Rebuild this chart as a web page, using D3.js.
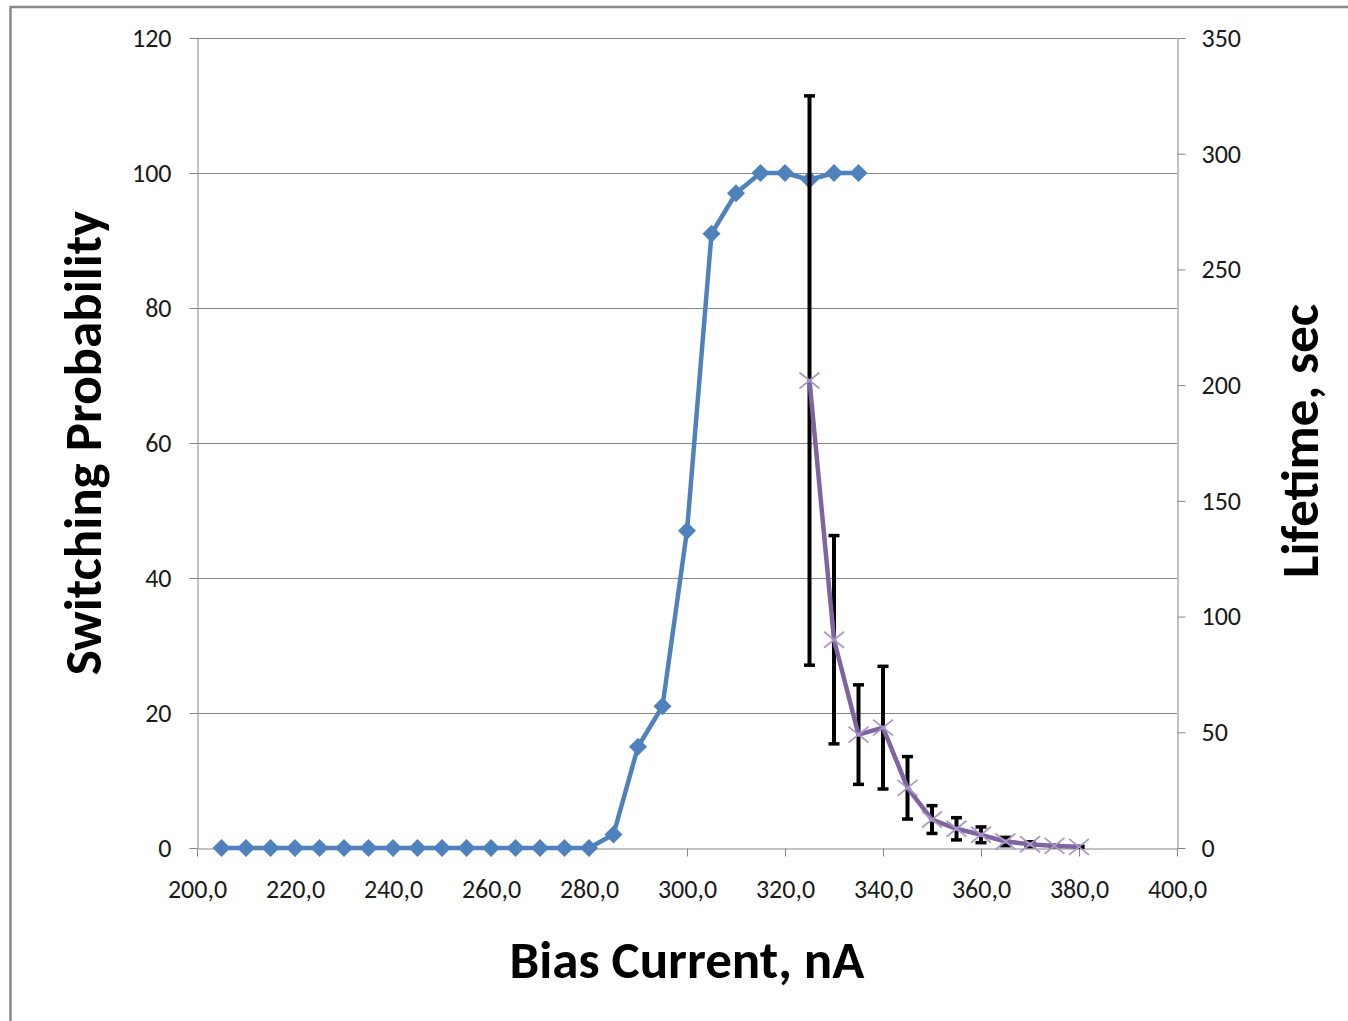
<!DOCTYPE html>
<html>
<head>
<meta charset="utf-8">
<script src="https://cdn.jsdelivr.net/npm/d3@7"></script>
<style>
  html, body { margin: 0; padding: 0; background: #fff; }
  svg { display: block; }
</style>
</head>
<body>
<svg id="chart" width="1348" height="1021"></svg>
<script>
// Switching probability vs bias current (left axis)
const switchCurrent = [205, 210, 215, 220, 225, 230, 235, 240, 245, 250, 255, 260, 265, 270, 275, 280,
                       285, 290, 295, 300, 305, 310, 315, 320, 325, 330, 335];
const switchProb = [0, 0, 0, 0, 0, 0, 0, 0, 0, 0, 0, 0, 0, 0, 0, 0,
                    2, 15, 21, 47, 91, 97, 100, 100, 99, 100, 100];

// Lifetime vs bias current (right axis), with symmetric error bars
const lifeCurrent = [325, 330, 335, 340, 345, 350, 355, 360, 365, 370, 375, 380];
const lifeTime = [202, 90, 49, 52, 26, 12.3, 8.3, 5.7, 2.8, 1.65, 0.9, 0.5];
const lifeErr = [123, 45, 21.5, 26.5, 13.5, 6, 4.8, 3.4, 1.8, 1.05, 0.3, 0.2];

// Tick values
const xTicks = [200, 220, 240, 260, 280, 300, 320, 340, 360, 380, 400];
const leftTicks = [0, 20, 40, 60, 80, 100, 120];
const rightTicks = [0, 50, 100, 150, 200, 250, 300, 350];

const svg = d3.select("#chart");
const plot = { left: 197, right: 1177, top: 38, bottom: 848 };
const font = "Carlito, Calibri, Lato, 'Open Sans', sans-serif";
const gridColor = "#868686";

const x = d3.scaleLinear().domain([200, 400]).range([plot.left, plot.right]);
const yL = d3.scaleLinear().domain([0, 120]).range([plot.bottom, plot.top]);
const yR = d3.scaleLinear().domain([0, 350]).range([plot.bottom, plot.top]);

// outer chart frame
svg.append("rect")
  .attr("x", 10.5).attr("y", 7)
  .attr("width", 1400).attr("height", 1100)
  .attr("fill", "none").attr("stroke", "#8a8a8a").attr("stroke-width", 2.5);

// horizontal gridlines
svg.append("g").selectAll("line").data(leftTicks.filter(d => d > 0)).join("line")
  .attr("x1", plot.left).attr("x2", plot.right)
  .attr("y1", d => Math.round(yL(d)) + 0.5).attr("y2", d => Math.round(yL(d)) + 0.5)
  .attr("stroke", gridColor).attr("stroke-width", 1);

function styleAxis(g) {
  g.selectAll(".domain").attr("stroke", gridColor).attr("stroke-width", 1);
  g.selectAll(".tick line").attr("stroke", gridColor).attr("stroke-width", 1);
  g.selectAll(".tick text")
    .attr("fill", "#1a1a1a")
    .style("font-family", font)
    .style("font-size", "26px");
}

// bottom axis
svg.append("g")
  .attr("transform", `translate(0,${plot.bottom + 0.5})`)
  .call(d3.axisBottom(x).tickValues(xTicks).tickSize(8).tickSizeOuter(0).tickPadding(23)
        .tickFormat(d => d3.format(".1f")(d).replace(".", ",")))
  .call(styleAxis);

// left axis
svg.append("g")
  .attr("transform", `translate(${plot.left + 0.5},0)`)
  .call(d3.axisLeft(yL).tickValues(leftTicks).tickSize(8).tickSizeOuter(0).tickPadding(18))
  .call(styleAxis);

// right axis
svg.append("g")
  .attr("transform", `translate(${plot.right + 0.5},0)`)
  .call(d3.axisRight(yR).tickValues(rightTicks).tickSize(8).tickSizeOuter(0).tickPadding(16))
  .call(styleAxis);

// switching probability series
const blue = "#4f81bd";
const switchData = switchCurrent.map((c, i) => [c, switchProb[i]]);
svg.append("path")
  .datum(switchData)
  .attr("fill", "none").attr("stroke", blue).attr("stroke-width", 4.5)
  .attr("stroke-linejoin", "round")
  .attr("d", d3.line().x(d => x(d[0])).y(d => yL(d[1])));

svg.append("g").selectAll("path").data(switchData).join("path")
  .attr("transform", d => `translate(${x(d[0])},${yL(d[1])})`)
  .attr("d", "M0,-9L9,0L0,9L-9,0Z")
  .attr("fill", blue);

// lifetime error bars
const lifeData = lifeCurrent.map((c, i) => ({ c, v: lifeTime[i], e: lifeErr[i] }));
const eb = svg.append("g").selectAll("g").data(lifeData).join("g");
eb.append("line")
  .attr("x1", d => x(d.c)).attr("x2", d => x(d.c))
  .attr("y1", d => yR(d.v + d.e)).attr("y2", d => yR(Math.max(0, d.v - d.e)))
  .attr("stroke", "#000").attr("stroke-width", 4);
eb.append("line")
  .attr("x1", d => x(d.c) - 5.5).attr("x2", d => x(d.c) + 5.5)
  .attr("y1", d => yR(d.v + d.e)).attr("y2", d => yR(d.v + d.e))
  .attr("stroke", "#000").attr("stroke-width", 3.5);
eb.append("line")
  .attr("x1", d => x(d.c) - 5.5).attr("x2", d => x(d.c) + 5.5)
  .attr("y1", d => yR(Math.max(0, d.v - d.e))).attr("y2", d => yR(Math.max(0, d.v - d.e)))
  .attr("stroke", "#000").attr("stroke-width", 3.5);

// lifetime series
const purple = "#8064a2";
svg.append("path")
  .datum(lifeData)
  .attr("fill", "none").attr("stroke", purple).attr("stroke-width", 4.5)
  .attr("stroke-linejoin", "round")
  .attr("d", d3.line().x(d => x(d.c)).y(d => yR(d.v)));

svg.append("g").selectAll("path").data(lifeData).join("path")
  .attr("transform", d => `translate(${x(d.c)},${yR(d.v)})`)
  .attr("d", "M-10,-8L10,8M-10,8L10,-8")
  .attr("stroke", "#ab98c6").attr("stroke-width", 1.8).attr("fill", "none");

// axis titles
const titleStyle = t => t
  .attr("text-anchor", "middle")
  .style("font-family", font).style("font-weight", "bold").style("font-size", "53px")
  .attr("fill", "#000");

svg.append("text")
  .attr("x", 687).attr("y", 978)
  .call(titleStyle)
  .text("Bias Current, nA");

svg.append("text")
  .attr("transform", "translate(101,443) rotate(-90)")
  .call(titleStyle)
  .text("Switching Probability");

svg.append("text")
  .attr("transform", "translate(1318,441) rotate(-90)")
  .call(titleStyle)
  .text("Lifetime, sec");
</script>
</body>
</html>
